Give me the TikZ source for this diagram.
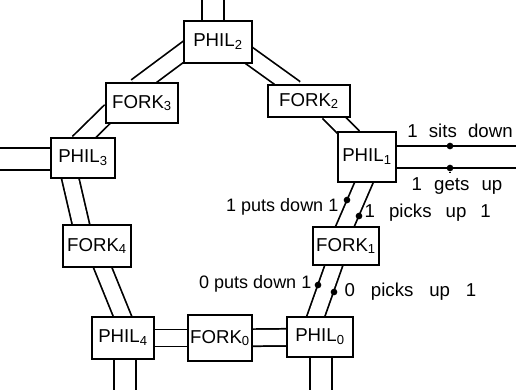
\documentclass[tikz,border=0pt]{standalone}
\usepackage{fontspec}
\setmainfont{Liberation Sans}
\pgfdeclarelayer{back}
\pgfsetlayers{back,main}
\begin{document}
\begin{tikzpicture}[x=0.75pt,y=-0.75pt,
    box/.style={draw,line width=1.5pt,fill=white,inner sep=1pt,minimum width=48pt,minimum height=30pt,font=\fontsize{14}{16}\selectfont},
    chan/.style={double,line width=1.3pt,double distance=11.5pt,shorten <=-6pt,shorten >=-6pt},
    stub/.style={double,line width=1.3pt,double distance=15pt},
    dot/.style={circle,fill,inner sep=0pt,minimum size=5pt},
    lbl/.style={font=\fontsize{13.5}{16}\selectfont},
    wide/.style={font=\fontsize{14}{16}\selectfont,execute at begin node={\spaceskip=#1\relax}}]
      \useasboundingbox (0,0) rectangle (516,390);%

      \node[box,minimum width=51pt,minimum height=31pt] (PH2) at (218,42) {PHIL\textsubscript{2}};%
      \node[box,minimum width=54pt] (F3) at (142,103) {FORK\textsubscript{3}};%
      \node[box,minimum width=61pt,minimum height=24pt] (F2) at (309,101) {FORK\textsubscript{2}};%
      \node[box] (PH3) at (83,158) {PHIL\textsubscript{3}};%
      \node[box,minimum width=44pt,minimum height=37pt] (PH1) at (367,157) {PHIL\textsubscript{1}};%
      \node[box,minimum width=51pt,minimum height=32pt] (F4) at (97,246) {FORK\textsubscript{4}};%
      \node[box,minimum width=50pt,minimum height=28pt] (F1) at (346,246) {FORK\textsubscript{1}};%
      \node[box,minimum width=47pt,minimum height=32pt] (PH4) at (123,338) {PHIL\textsubscript{4}};%
      \node[box,minimum width=48pt,minimum height=35pt] (F0) at (220,338) {FORK\textsubscript{0}};%
      \node[box,minimum width=49pt] (PH0) at (320,337) {PHIL\textsubscript{0}};%

      \coordinate (T2) at (213,0);%
      \coordinate (L3) at (0,159);%
      \coordinate (R1) at (516,157);%
      \coordinate (D4) at (125,390);%
      \coordinate (D0) at (321,390);%

      \begin{pgfonlayer}{back}
      \draw[chan] (PH2.196) -- (F3.88);%
      \draw[chan] (PH2.335) -- (F2.140);%
      \draw[chan] (F3.200) -- (PH3.87);%
      \draw[chan] (F2.326) -- (PH1.127);%
      \draw[chan] (PH3.239) -- (F4.126);%
      \draw[chan] (PH1.263) -- (F1.93);%
      \draw[chan] (F4.285) -- (PH4.92);%
      \draw[chan] (F1.238) -- (PH0.101);%
      \draw[chan] (PH4) -- (F0);%
      \draw[chan] (F0) -- (PH0);%

      \draw[stub] (T2 |- PH2) -- (T2);%
      \draw[stub] (L3 -| PH3) -- (L3);%
      \draw[stub] (PH1.center) -- (R1);%
      \draw[stub] (D4 |- PH4) -- (D4);%
      \draw[stub] (D0 |- PH0) -- (D0);%
      \end{pgfonlayer}

      \node[dot] (S1) at (450,146) {};%
      \node[dot] (G1) at (450,168) {};%
      \node[dot] (PD1) at (347,200) {};%
      \node[dot] (PU1) at (359,216) {};%
      \node[dot] (PD0) at (318,285) {};%
      \node[dot] (PU0) at (334,292) {};%

      \node[wide=0.6em] (S1T) at (460,131) {1 sits down};%
      \node[wide=0.65em] (G1T) at (457,186) {1 gets up};%
      \node[lbl,anchor=east] (PD1T) at (343,207) {1 puts down 1};%
      \node[wide=0.75em,anchor=west] (PU1T) at (360,213) {1 picks up 1};%
      \node[lbl,anchor=east] (PD0T) at (316,284) {0 puts down 1};%
      \node[wide=0.85em,anchor=west] (PU0T) at (340,292) {0 picks up 1};%

      \draw[line width=1.3pt] (G1) -- (G1 |- G1T.north);%
\end{tikzpicture}
\end{document}
